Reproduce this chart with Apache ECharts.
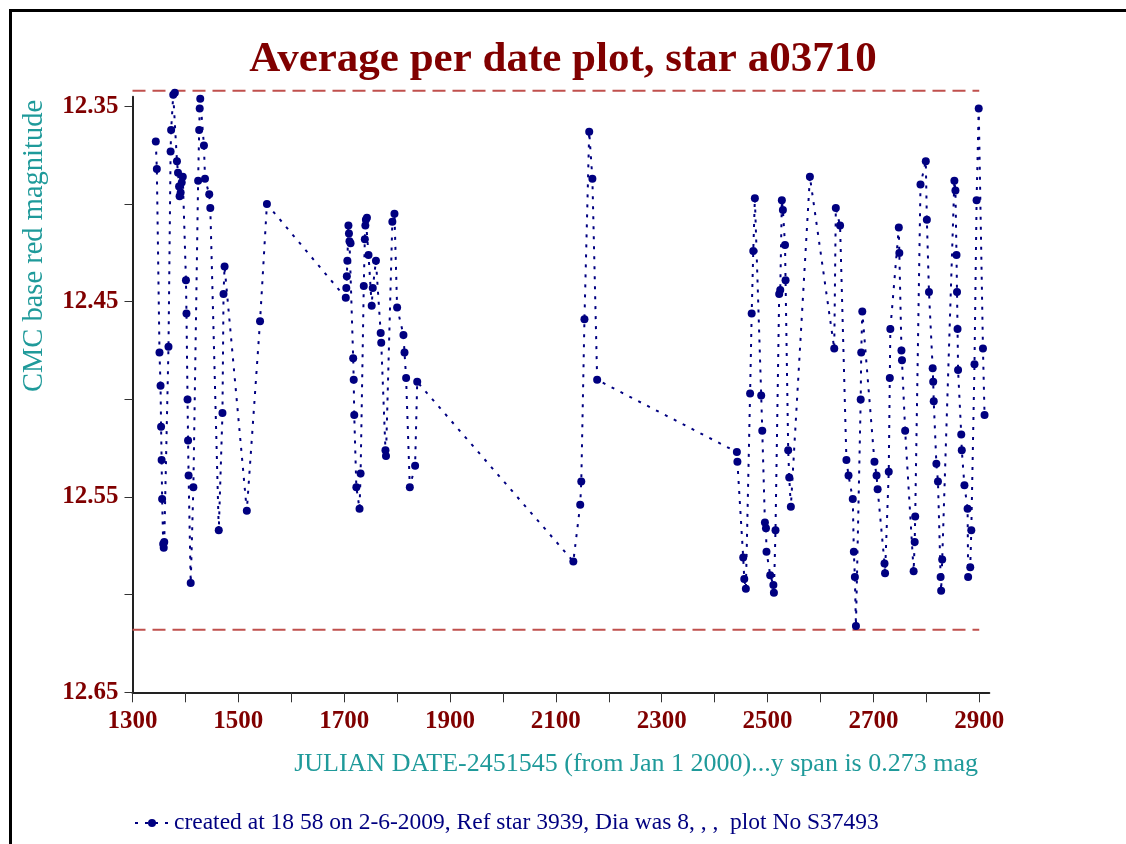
<!DOCTYPE html>
<html>
<head>
<meta charset="utf-8">
<script src="https://cdn.jsdelivr.net/npm/echarts@6/dist/echarts.min.js"></script>
<style>
html,body{margin:0;padding:0;background:#fff;}
#chart{width:1126px;height:844px;}
</style>
</head>
<body>
<div id="chart"></div>
<script>
// ---- data ----
const days = [
 1344,1346,1351,1353,1354,1355,1356,1358,1359,1360,1368,1372,1373,1377,1380,1384,1386,1388,1389,1391,1393,1395,
 1401,1402,1404,1405,1406,1410,1415,1424,1426,1427,1428,1435,1437,1445,1447,1463,1470,1472,1474,1516,1541,1554,
 1703,1704,1705,1706,1708,1709,1710,1712,1717,1718,1719,1723,1729,1731,1737,1739,1740,1741,1743,1746,1752,1754,
 1760,1769,1770,1778,1779,1791,1795,1800,1812,1814,1817,1824,1834,1838,
 2133,2146,2148,2154,2163,2169,2178,
 2442,2443,2454,2456,2459,2467,2470,2473,2476,2488,2490,2495,2497,2498,2505,2511,2512,2515,2522,2524,2527,2529,
 2533,2534,2539,2541,2544,2580,2626,2629,2637,2649,2653,2661,2663,2665,2667,2676,2677,2679,2702,2706,2708,2721,
 2722,2729,2731,2732,2748,2749,2753,2754,2760,2776,2778,2779,2789,2799,2801,2805,2812,2813,2814,2819,2822,2827,
 2828,2830,2853,2855,2857,2858,2859,2860,2866,2867,2872,2878,2879,2883,2885,2891,2895,2899,2907,2910
];
const mags = [
 12.368,12.382,12.476,12.493,12.514,12.531,12.551,12.574,12.576,12.573,12.473,12.373,12.362,12.344,12.343,12.378,12.384,12.391,12.396,12.394,12.389,12.386,
 12.439,12.456,12.500,12.521,12.539,12.594,12.545,12.388,12.362,12.351,12.346,12.370,12.387,12.395,12.402,12.567,12.507,12.446,12.432,12.557,12.460,12.400,
 12.448,12.443,12.437,12.429,12.411,12.415,12.419,12.420,12.479,12.490,12.508,12.545,12.556,12.538,12.442,12.418,12.411,12.408,12.407,12.426,12.452,12.443,
 12.429,12.466,12.471,12.526,12.529,12.409,12.405,12.453,12.467,12.476,12.489,12.545,12.534,12.491,
 12.583,12.554,12.542,12.459,12.363,12.387,12.490,
 12.527,12.532,12.581,12.592,12.597,12.497,12.456,12.424,12.397,12.498,12.516,12.563,12.566,12.578,12.590,12.595,12.599,12.567,12.446,12.444,12.398,12.403,
 12.421,12.439,12.526,12.540,12.555,12.386,12.474,12.402,12.411,12.531,12.539,12.551,12.578,12.591,12.616,12.500,12.476,12.455,12.532,12.539,12.546,12.584,
 12.589,12.537,12.489,12.464,12.412,12.425,12.475,12.480,12.516,12.588,12.573,12.560,12.390,12.378,12.408,12.445,12.484,12.491,12.501,12.533,12.542,12.591,
 12.598,12.582,12.388,12.393,12.426,12.445,12.464,12.485,12.518,12.526,12.544,12.556,12.591,12.586,12.567,12.482,12.398,12.351,12.474,12.508
];
const refLines = [12.342, 12.618];          // dashed limit lines
const refSpan = [1300, 2900];               // x extent of dashed lines
const xTicks = [1300,1400,1500,1600,1700,1800,1900,2000,2100,2200,2300,2400,2500,2600,2700,2800,2900];
const xLabels = [1300,1500,1700,1900,2100,2300,2500,2700,2900];
const yTicks = [12.35,12.40,12.45,12.50,12.55,12.60,12.65];
const yLabels = [12.35,12.45,12.55,12.65];
const seriesName = 'created at 18 58 on 2-6-2009, Ref star 3939, Dia was 8, , ,  plot No S37493';
const titleText = 'Average per date plot, star a03710';
const xName = 'JULIAN DATE-2451545 (from Jan 1 2000)...y span is 0.273 mag';
const yName = 'CMC base red magnitude';

const FONT = 'Liberation Serif';
const chart = echarts.init(document.getElementById('chart'), null, {renderer:'canvas'});

const refSeries = refLines.map((v, i) => ({
  name: 'ref' + i,
  type: 'line',
  data: refSpan.map(d => [d, v]),
  symbol: 'none',
  clip: false,
  silent: true,
  z: 1,
  lineStyle: {color: '#c0504d', width: 2, type: [13, 7]}
}));

chart.setOption({
  animation: false,
  backgroundColor: '#ffffff',
  title: {
    text: titleText, left: 'center', top: 33,
    textStyle: {fontFamily: FONT, fontWeight: 'bold', fontSize: 43, color: '#800000'}
  },
  legend: {
    data: [seriesName],
    left: 129, top: 806,
    itemWidth: 34, itemHeight: 10, itemGap: 6,
    textStyle: {fontFamily: FONT, fontSize: 23.5, color: '#000080'}
  },
  grid: {left: 132.5, right: 136.7, top: 96.7, bottom: 151.7, outerBoundsMode: 'none', containLabel: false},
  xAxis: {
    type: 'value', min: 1300, max: 2919,
    splitLine: {show: false},
    axisLine: {lineStyle: {color: '#222', width: 2}},
    axisTick: {customValues: xTicks, length: 10, lineStyle: {color: '#333', width: 1}},
    axisLabel: {customValues: xLabels, margin: 17, fontFamily: FONT, fontWeight: 'bold', fontSize: 25, color: '#800000',
      formatter: v => String(Math.round(v))}
  },
  yAxis: {
    type: 'value', inverse: true, min: 12.345, max: 12.65,
    splitLine: {show: false},
    axisLine: {show: true, lineStyle: {color: '#222', width: 2}},
    axisTick: {show: true, customValues: yTicks, length: 8, lineStyle: {color: '#333', width: 1}},
    axisLabel: {customValues: yLabels, margin: 14, fontFamily: FONT, fontWeight: 'bold', fontSize: 25, color: '#800000',
      formatter: v => v.toFixed(2)}
  },
  graphic: [
    {type: 'line', shape: {x1: 10.5, y1: 9, x2: 10.5, y2: 844}, style: {stroke: '#000', lineWidth: 3}},
    {type: 'line', shape: {x1: 9, y1: 10.5, x2: 1126, y2: 10.5}, style: {stroke: '#000', lineWidth: 3}},
    {type: 'text', x: 978, y: 764, style: {text: xName, fill: '#1f9a9a', font: '26px "Liberation Serif"', align: 'right', verticalAlign: 'middle'}},
    {type: 'text', x: 35, y: 246, rotation: Math.PI / 2, style: {text: yName, fill: '#1f9a9a', font: '28.5px "Liberation Serif"', align: 'center', verticalAlign: 'middle'}}
  ],
  series: [
    ...refSeries,
    {
      name: seriesName,
      type: 'line',
      data: days.map((d, i) => [d, mags[i]]),
      clip: false,
      z: 3,
      symbol: 'circle',
      symbolSize: 8,
      showSymbol: true,
      showAllSymbol: true,
      itemStyle: {color: '#000080'},
      lineStyle: {color: '#000080', width: 2, type: [3, 7]},
      emphasis: {disabled: true}
    }
  ]
});
</script>
</body>
</html>
